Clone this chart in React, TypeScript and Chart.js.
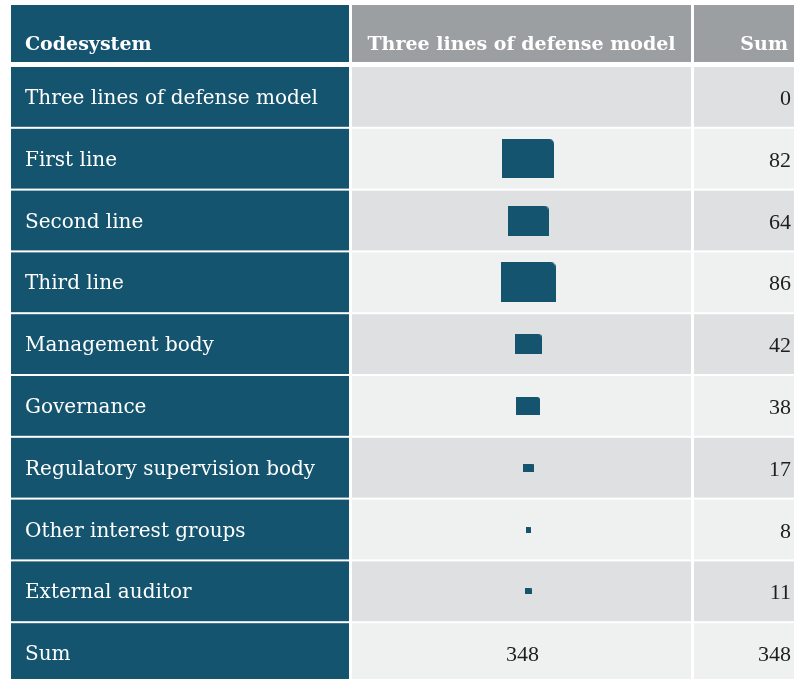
import React, { useEffect, useRef } from 'react';
import { Chart, registerables } from 'chart.js';

Chart.register(...registerables);

// ---- data ----
const columnTitles = ['Codesystem', 'Three lines of defense model', 'Sum'];
const codes = [
  'Three lines of defense model',
  'First line',
  'Second line',
  'Third line',
  'Management body',
  'Governance',
  'Regulatory supervision body',
  'Other interest groups',
  'External auditor',
];
const counts = [0, 82, 64, 86, 42, 38, 17, 8, 11];
const sumLabel = 'Sum';

// ---- layout / style ----
const W = 794;
const H = 684;
const HEADER_TOP = 5;
const HEADER_BOTTOM = 62;
const HEADER_BASELINE = 50;
const BODY_TOP = 66;
const COL1: [number, number] = [11, 349];
const COL2: [number, number] = [352, 691];
const COL3: [number, number] = [694, 810];
const MARK_X = 528;
const ROW_GAP = 2;
const TEAL = '#14546e';
const HEAD_GRAY = '#9c9fa2';
const ROW_DARK = '#dfe0e2';
const ROW_LIGHT = '#eff0f0';
const FONT = '"DejaVu Serif", "Liberation Serif", serif';
const NUM_FONT = '"Liberation Serif", "DejaVu Serif", serif';
const W_FACTOR = 0.64;
const H_FACTOR = 0.47;

function makeMark(v: number): HTMLCanvasElement {
  const w = Math.max(5, Math.round(v * W_FACTOR));
  const h = Math.max(6, Math.round(v * H_FACTOR));
  const c = document.createElement('canvas');
  c.width = w;
  c.height = h;
  const g = c.getContext('2d')!;
  const r = Math.min(5, Math.max(1, Math.round(Math.min(w, h) * 0.15)));
  g.fillStyle = TEAL;
  g.beginPath();
  g.moveTo(0, 0);
  g.lineTo(w - r, 0);
  g.quadraticCurveTo(w, 0, w, r);
  g.lineTo(w, h);
  g.lineTo(0, h);
  g.closePath();
  g.fill();
  return c;
}

export default function App() {
  const ref = useRef<HTMLCanvasElement | null>(null);

  useEffect(() => {
    const canvas = ref.current;
    if (!canvas) return;
    const rowLabels = [...codes, sumLabel];
    const total = counts.reduce((a, b) => a + b, 0);
    const points = codes
      .map((c, i) => ({ x: MARK_X, y: c, v: counts[i] }))
      .filter((p) => p.v > 0);
    const marks = points.map((p) => makeMark(p.v));

    const tablePlugin = {
      id: 'tablePlugin',
      beforeDatasetsDraw(chart: any) {
        const { ctx, scales } = chart;
        const y = scales.y;
        const x = scales.x;
        const half = (y.getPixelForValue(1) - y.getPixelForValue(0)) / 2;
        const hx = (a: number) => x.getPixelForValue(a);
        ctx.save();
        ctx.fillStyle = TEAL;
        ctx.fillRect(hx(COL1[0]), HEADER_TOP, hx(COL1[1]) - hx(COL1[0]), HEADER_BOTTOM - HEADER_TOP);
        ctx.fillStyle = HEAD_GRAY;
        ctx.fillRect(hx(COL2[0]), HEADER_TOP, hx(COL2[1]) - hx(COL2[0]), HEADER_BOTTOM - HEADER_TOP);
        ctx.fillRect(hx(COL3[0]), HEADER_TOP, hx(COL3[1]) - hx(COL3[0]), HEADER_BOTTOM - HEADER_TOP);
        rowLabels.forEach((_, i) => {
          const cy = y.getPixelForValue(i);
          const top = cy - half + ROW_GAP / 2;
          const h = 2 * half - ROW_GAP;
          ctx.fillStyle = TEAL;
          ctx.fillRect(hx(COL1[0]), top, hx(COL1[1]) - hx(COL1[0]), h);
          ctx.fillStyle = i % 2 === 0 ? ROW_DARK : ROW_LIGHT;
          ctx.fillRect(hx(COL2[0]), top, hx(COL2[1]) - hx(COL2[0]), h);
          ctx.fillRect(hx(COL3[0]), top, hx(COL3[1]) - hx(COL3[0]), h);
        });
        ctx.restore();
      },
      afterDatasetsDraw(chart: any) {
        const { ctx, scales } = chart;
        const y = scales.y;
        const x = scales.x;
        const hx = (a: number) => x.getPixelForValue(a);
        const mid2 = (hx(COL2[0]) + hx(COL2[1])) / 2;
        ctx.save();
        ctx.textBaseline = 'alphabetic';
        ctx.fillStyle = '#ffffff';
        ctx.font = `bold 19px ${FONT}`;
        ctx.textAlign = 'left';
        ctx.fillText(columnTitles[0], hx(COL1[0]) + 14, HEADER_BASELINE);
        ctx.textAlign = 'center';
        ctx.fillText(columnTitles[1], mid2, HEADER_BASELINE);
        ctx.textAlign = 'right';
        ctx.fillText(columnTitles[2], 788, HEADER_BASELINE);
        rowLabels.forEach((lab, i) => {
          const cy = y.getPixelForValue(i);
          ctx.font = `20px ${FONT}`;
          ctx.fillStyle = '#ffffff';
          ctx.textAlign = 'left';
          ctx.fillText(lab, hx(COL1[0]) + 14, cy + 7);
          ctx.font = `22px ${NUM_FONT}`;
          ctx.fillStyle = '#1e1e1e';
          ctx.textAlign = 'right';
          const val = i < codes.length ? counts[i] : total;
          ctx.fillText(String(val), 791, cy + 8);
          if (i === codes.length) {
            ctx.textAlign = 'center';
            ctx.fillText(String(total), mid2 + 1, cy + 8);
          }
        });
        ctx.restore();
      },
    };

    const chart = new Chart(canvas, {
      type: 'scatter',
      data: {
        datasets: [
          {
            data: points.map((p) => ({ x: p.x, y: p.y })) as any,
            pointStyle: ((c: any) => marks[c.dataIndex]) as any,
            pointRadius: 3,
            backgroundColor: TEAL,
            borderWidth: 0,
          },
        ],
      },
      options: {
        responsive: false,
        animation: false,
        events: [],
        layout: { autoPadding: false, padding: { top: BODY_TOP, left: 0, right: 0, bottom: 0 } },
        plugins: { legend: { display: false }, tooltip: { enabled: false } },
        scales: {
          x: { type: 'linear', min: 0, max: W, display: false },
          y: { type: 'category', labels: rowLabels, offset: true, display: false },
        },
      },
      plugins: [tablePlugin],
    });
    return () => chart.destroy();
  }, []);

  return (
    <div style={{ position: 'fixed', left: 0, top: 0, width: W, height: 679, overflow: 'hidden', background: '#fff' }}>
      <canvas ref={ref} width={W} height={H} style={{ display: 'block', width: W, height: H }} />
    </div>
  );
}
